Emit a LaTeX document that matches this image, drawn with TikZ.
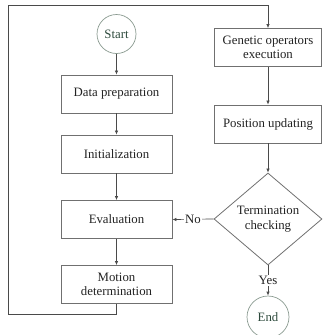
\documentclass[tikz,border=0pt]{standalone}
\usepackage{fontspec}
\setmainfont{Liberation Serif}
\usetikzlibrary{shapes.geometric,arrows.meta}
\definecolor{boxline}{HTML}{707070}
\definecolor{flowline}{HTML}{4A4A4A}
\definecolor{termline}{HTML}{8A9A90}
\definecolor{termtext}{HTML}{2D4A3C}
\definecolor{bodytext}{HTML}{222222}
\begin{document}
\begin{tikzpicture}[x=1pt,y=-1pt,
  every node/.style={font=\fontsize{12.8}{14.5}\selectfont, text=bodytext},
  stepbox/.style={draw=boxline, line width=0.8pt, rectangle, align=center,
    minimum width=111pt, minimum height=38pt, inner sep=0pt},
  rbox/.style={stepbox, minimum width=107pt},
  termnode/.style={circle, draw=termline, line width=0.7pt, text=termtext,
    inner sep=0pt},
  decision/.style={diamond, draw=boxline, line width=0.8pt, align=center,
    minimum width=108pt, minimum height=92pt, aspect=1.17, inner sep=0pt},
  flow/.style={draw=flowline, line width=0.7pt},
  arr/.style={flow, -{Latex[length=4pt,width=3.5pt]}},
  lbl/.style={fill=white, inner sep=1pt}]
\useasboundingbox (0,0) rectangle (322,335);

% left column
\node[termnode, minimum size=39pt] (start) at (116.5,34) {Start};
\node[stepbox] (data) at (116.5,94) {Data preparation};
\node[stepbox] (init) at (116.5,154) {Initialization};
\node[stepbox] (eval) at (116.5,219.5) {Evaluation};
\node[stepbox] (motion) at (116.5,284.5) {Motion\\determination};

% right column
\node[rbox] (gen) at (268,47.5) {Genetic operators\\execution};
\node[rbox] (pos) at (268,124) {Position updating};
\node[decision] (term) at (268,219) {Termination\\checking};
\node[termnode, minimum size=42pt] (finish) at (268,317) {End};

% loop corners
\coordinate (lb) at (8,314);
\coordinate (lt) at (8,5);

% connectors
\draw[arr] (start) -- (data);
\draw[arr] (data) -- (init);
\draw[arr] (init) -- (eval);
\draw[arr] (eval) -- (motion);
\draw[arr] (motion.south) |- (lb) -- (lt) -| (gen.north);
\draw[arr] (gen) -- (pos);
\draw[arr] (pos) -- (term.north);
\draw[arr] (term.west) -- node[lbl] {No} (eval.east);
\draw[arr] (term.south) -- node[lbl, pos=0.5] {Yes} (finish.north);
\end{tikzpicture}
\end{document}
